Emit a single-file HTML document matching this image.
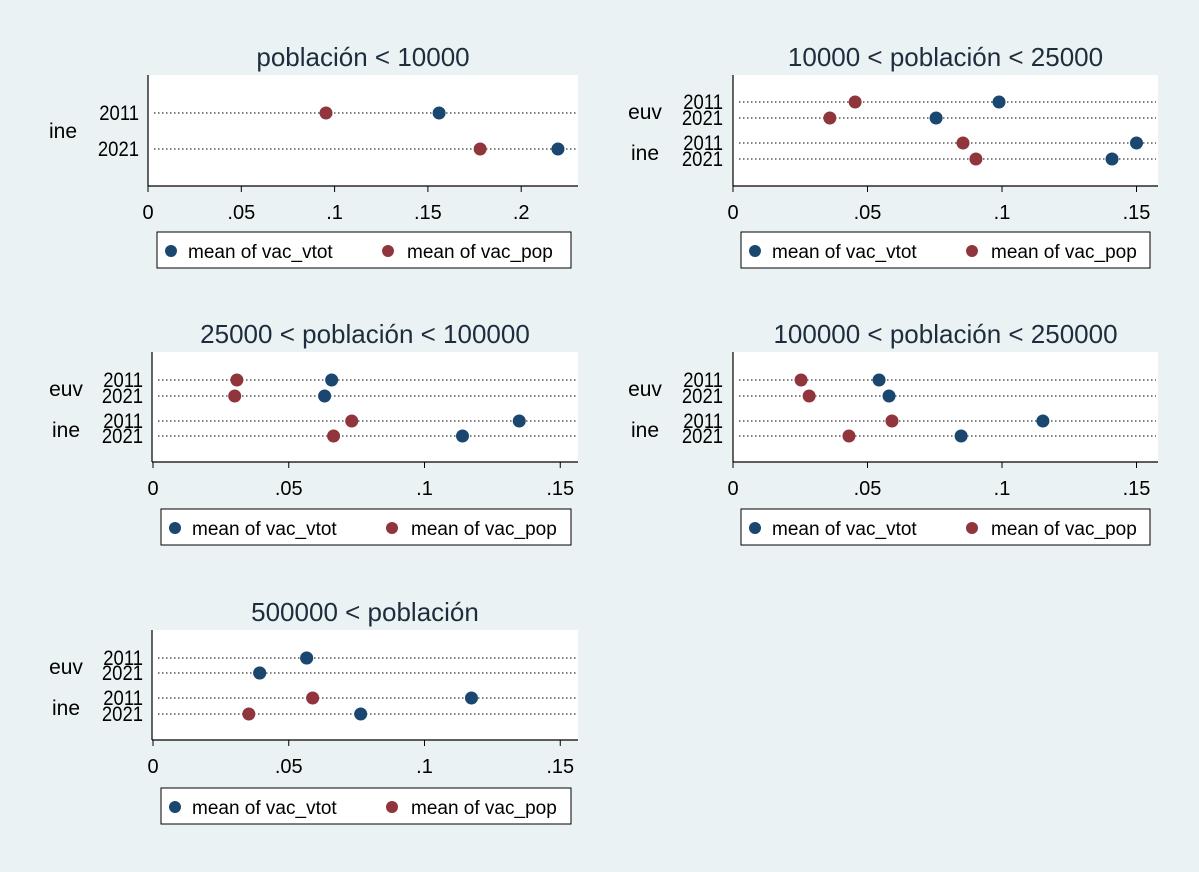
<!DOCTYPE html>
<html><head><meta charset="utf-8"><style>
html,body{margin:0;padding:0;background:#eaf2f3;}
svg{display:block;font-family:"Liberation Sans",Arial,sans-serif;}
</style></head><body>
<svg id="c" width="1199" height="872" viewBox="0 0 1199 872"></svg>
<script>
const titles = ["población < 10000","10000 < población < 25000","25000 < población < 100000","100000 < población < 250000","500000 < población"];
const groups1 = ["ine"];
const groups = ["euv","ine"];
const years = ["2011","2021"];
const ticks1 = [0,0.05,0.1,0.15,0.2];
const tickLabels1 = ["0",".05",".1",".15",".2"];
const ticks = [0,0.05,0.1,0.15];
const tickLabels = ["0",".05",".1",".15"];
// values ordered by row: group, year
const vtot1 = [0.156,0.2197];
const pop1  = [0.0954,0.178];
const vtot2 = [0.0989,0.0755,0.150,0.1409];
const pop2  = [0.0454,0.036,0.0855,0.0903];
const vtot3 = [0.0658,0.0632,0.1349,0.114];
const pop3  = [0.0309,0.0301,0.0732,0.0665];
const vtot4 = [0.0543,0.058,0.1152,0.0848];
const pop4  = [0.0253,0.0283,0.0591,0.0431];
const vtot5 = [0.0566,0.0393,0.1173,0.0765];
const pop5  = [0.0566,0.0393,0.0588,0.0353];

const BLUE="#1a476f", RED="#90353b";
const NS="http://www.w3.org/2000/svg";
const svg=document.getElementById('c');
function mk(tag,attrs,parent,text){const e=document.createElementNS(NS,tag);for(const k in attrs)e.setAttribute(k,attrs[k]);if(text!==undefined)e.textContent=text;(parent||svg).appendChild(e);return e;}

const panels=[
 {t:titles[0],x0:148,x1:578,y0:75,y1:186,px0:148,scale:1866,rows:[113,149],grp:groups1,gy:[131],ticks:ticks1,tl:tickLabels1,vt:vtot1,pp:pop1,lx0:157,lx1:571,ly:232,yl:139,gx:63},
 {t:titles[1],x0:733,x1:1158,y0:75,y1:186,px0:733,scale:2690,rows:[102,118,143,159],grp:groups,gy:[112,153],ticks:ticks,tl:tickLabels,vt:vtot2,pp:pop2,lx0:741,lx1:1150,ly:232,yl:723,gx:645},
 {t:titles[2],x0:152,x1:578,y0:352,y1:462,px0:153,scale:2715,rows:[380,396,421,436],grp:groups,gy:[389,430],ticks:ticks,tl:tickLabels,vt:vtot3,pp:pop3,lx0:161,lx1:571,ly:509,yl:143,gx:66},
 {t:titles[3],x0:733,x1:1158,y0:352,y1:462,px0:733,scale:2690,rows:[380,396,421,436],grp:groups,gy:[389,430],ticks:ticks,tl:tickLabels,vt:vtot4,pp:pop4,lx0:741,lx1:1150,ly:509,yl:723,gx:645},
 {t:titles[4],x0:152,x1:578,y0:630,y1:740,px0:153,scale:2715,rows:[658,673,698,714],grp:groups,gy:[667,708],ticks:ticks,tl:tickLabels,vt:vtot5,pp:pop5,lx0:161,lx1:571,ly:788,yl:143,gx:66}
];

panels.forEach((p,i)=>{
  const g=mk('g',{});
  
  
  const xs=v=>p.px0+v*p.scale;
  const tt=mk('text',{x:(p.x0+p.x1)/2,y:p.y0-9,'text-anchor':'middle','font-size':26,fill:'#1e2d3d'},g,p.t);
  
  
  const bg=mk('rect',{x:p.x0,y:p.y0,width:p.x1-p.x0,height:p.y1-p.y0,fill:'#fff'},g);
  
  
  mk('line',{x1:p.x0,y1:p.y0,x2:p.x0,y2:p.y1,stroke:'#000','stroke-width':1.2},g);
  const ax=mk('line',{x1:p.x0,y1:p.y1,x2:p.x1,y2:p.y1,stroke:'#000','stroke-width':1.2},g);
  
  
  p.ticks.forEach((tv,j)=>{
    mk('line',{x1:xs(tv),y1:p.y1,x2:xs(tv),y2:p.y1+6,stroke:'#000'},g);
    const tl=mk('text',{x:xs(tv),y:p.y1+33,'text-anchor':'middle','font-size':20,fill:'#000'},g,p.tl[j]);
    
    
  });
  p.rows.forEach((ry,r)=>{
    mk('line',{x1:p.x0+6,y1:ry,x2:p.x1-2,y2:ry,stroke:'#000','stroke-width':1,'stroke-dasharray':'1.5,2.5'},g);
    const yl=mk('text',{x:p.yl,y:ry+7,'text-anchor':'end','font-size':21,fill:'#000',transform:`translate(${p.yl} 0) scale(0.88 1) translate(${-p.yl} 0)`},g,years[r%2]);
    
    
  });
  p.grp.forEach((gn,k)=>{
    const gl=mk('text',{x:p.gx,y:p.gy[k]+7,'text-anchor':'middle','font-size':21,fill:'#000'},g,gn);
    
    
  });
  p.rows.forEach((ry,r)=>{
    const c1=mk('circle',{cx:xs(p.pp[r]),cy:ry,r:6.5,fill:RED},g);
    
    
    const c2=mk('circle',{cx:xs(p.vt[r]),cy:ry,r:6.5,fill:BLUE},g);
    
    
  });
  const lg=mk('g',{},g);
  
  
  mk('rect',{x:p.lx0,y:p.ly,width:p.lx1-p.lx0,height:36,fill:'#fff',stroke:'#000','stroke-width':1},lg);
  mk('circle',{cx:p.lx0+14,cy:p.ly+19,r:6,fill:BLUE},lg);
  mk('text',{x:p.lx0+31,y:p.ly+26,'font-size':19,fill:'#000'},lg,'mean of vac_vtot');
  mk('circle',{cx:p.lx0+231,cy:p.ly+19,r:6,fill:RED},lg);
  mk('text',{x:p.lx0+250,y:p.ly+26,'font-size':19,fill:'#000'},lg,'mean of vac_pop');
});
</script>
</body></html>
